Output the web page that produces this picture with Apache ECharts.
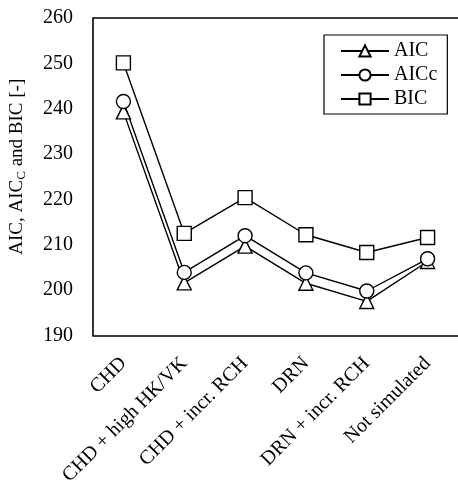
<!DOCTYPE html>
<html>
<head>
<meta charset="utf-8">
<script src="https://cdn.jsdelivr.net/npm/echarts@6/dist/echarts.min.js"></script>
<style>html,body{margin:0;padding:0;background:#fff;}#c{width:458px;height:488px;}</style>
</head>
<body>
<div id="c"></div>
<script>
const categories = ['CHD', 'CHD + high HK/VK', 'CHD + incr. RCH', 'DRN', 'DRN + incr. RCH', 'Not simulated'];
const aic  = [239.3, 201.6, 209.7, 201.5, 197.5, 206.3];
const aicc = [241.6, 203.9, 212.0, 203.8, 199.8, 206.9];
const bic  = [250.1, 212.5, 220.4, 212.2, 208.3, 211.6];
const yTicks = [190, 200, 210, 220, 230, 240, 250, 260];

const FONT = '"Liberation Serif", "Times New Roman", serif';
const chart = echarts.init(document.getElementById('c'), null, {renderer: 'canvas'});
function mk(name, data, symbol, size) {
  return {
    name: name, type: 'line', data: data, symbol: symbol, symbolSize: size,
    lineStyle: {color: '#000', width: 1.4},
    itemStyle: {color: '#fff', borderColor: '#000', borderWidth: 1.4},
    showAllSymbol: true
  };
}
chart.setOption({
  animation: false,
  backgroundColor: '#fff',
  grid: {left: 92, top: 18, width: 372, height: 319, containLabel: false},
  legend: {
    left: 324, top: 35, orient: 'vertical', itemGap: 4,
    itemWidth: 48, itemHeight: 14,
    borderColor: '#000', borderWidth: 1.2, padding: [6, 10, 5, 16],
    textStyle: {fontFamily: FONT, fontSize: 20, lineHeight: 20, color: '#000', padding: [0, 0, 0, 0]},
    data: ['AIC', 'AICc', 'BIC']
  },
  xAxis: {
    type: 'category', data: categories, boundaryGap: true,
    axisLine: {lineStyle: {color: '#000', width: 1.6}},
    axisTick: {inside: true, length: 4, lineStyle: {color: '#000', width: 1.2}},
    axisLabel: {rotate: 45, fontFamily: FONT, fontSize: 20, color: '#000', margin: 25, interval: 0},
    splitLine: {show: false}
  },
  yAxis: {
    type: 'value', min: yTicks[0], max: yTicks[yTicks.length - 1], interval: 10,
    axisLine: {show: true, lineStyle: {color: '#000', width: 1.6}},
    axisTick: {inside: true, length: 4, lineStyle: {color: '#000', width: 1.2}},
    axisLabel: {fontFamily: FONT, fontSize: 20, color: '#000', margin: 20},
    splitLine: {show: false},
    name: '{a|AIC, AIC}{s|C}{a| and BIC [-]}',
    nameLocation: 'middle', nameGap: 65, nameRotate: 90,
    nameTextStyle: {
      padding: [0, 0, 0, 20],
      rich: {
        a: {fontFamily: FONT, fontSize: 19, color: '#000'},
        s: {fontFamily: FONT, fontSize: 13, color: '#000', verticalAlign: 'bottom', padding: [8, 0, 0, 0]}
      }
    }
  },
  series: [
    mk('AIC', aic, 'triangle', 14),
    mk('AICc', aicc, 'circle', 14),
    mk('BIC', bic, 'rect', 14),
    {type: 'line', data: [], markLine: {silent: true, symbol: 'none', lineStyle: {color: '#000', width: 1.5, type: 'solid'}, label: {show: false}, data: [{yAxis: 260}]}}
  ]
});
</script>
</body>
</html>
